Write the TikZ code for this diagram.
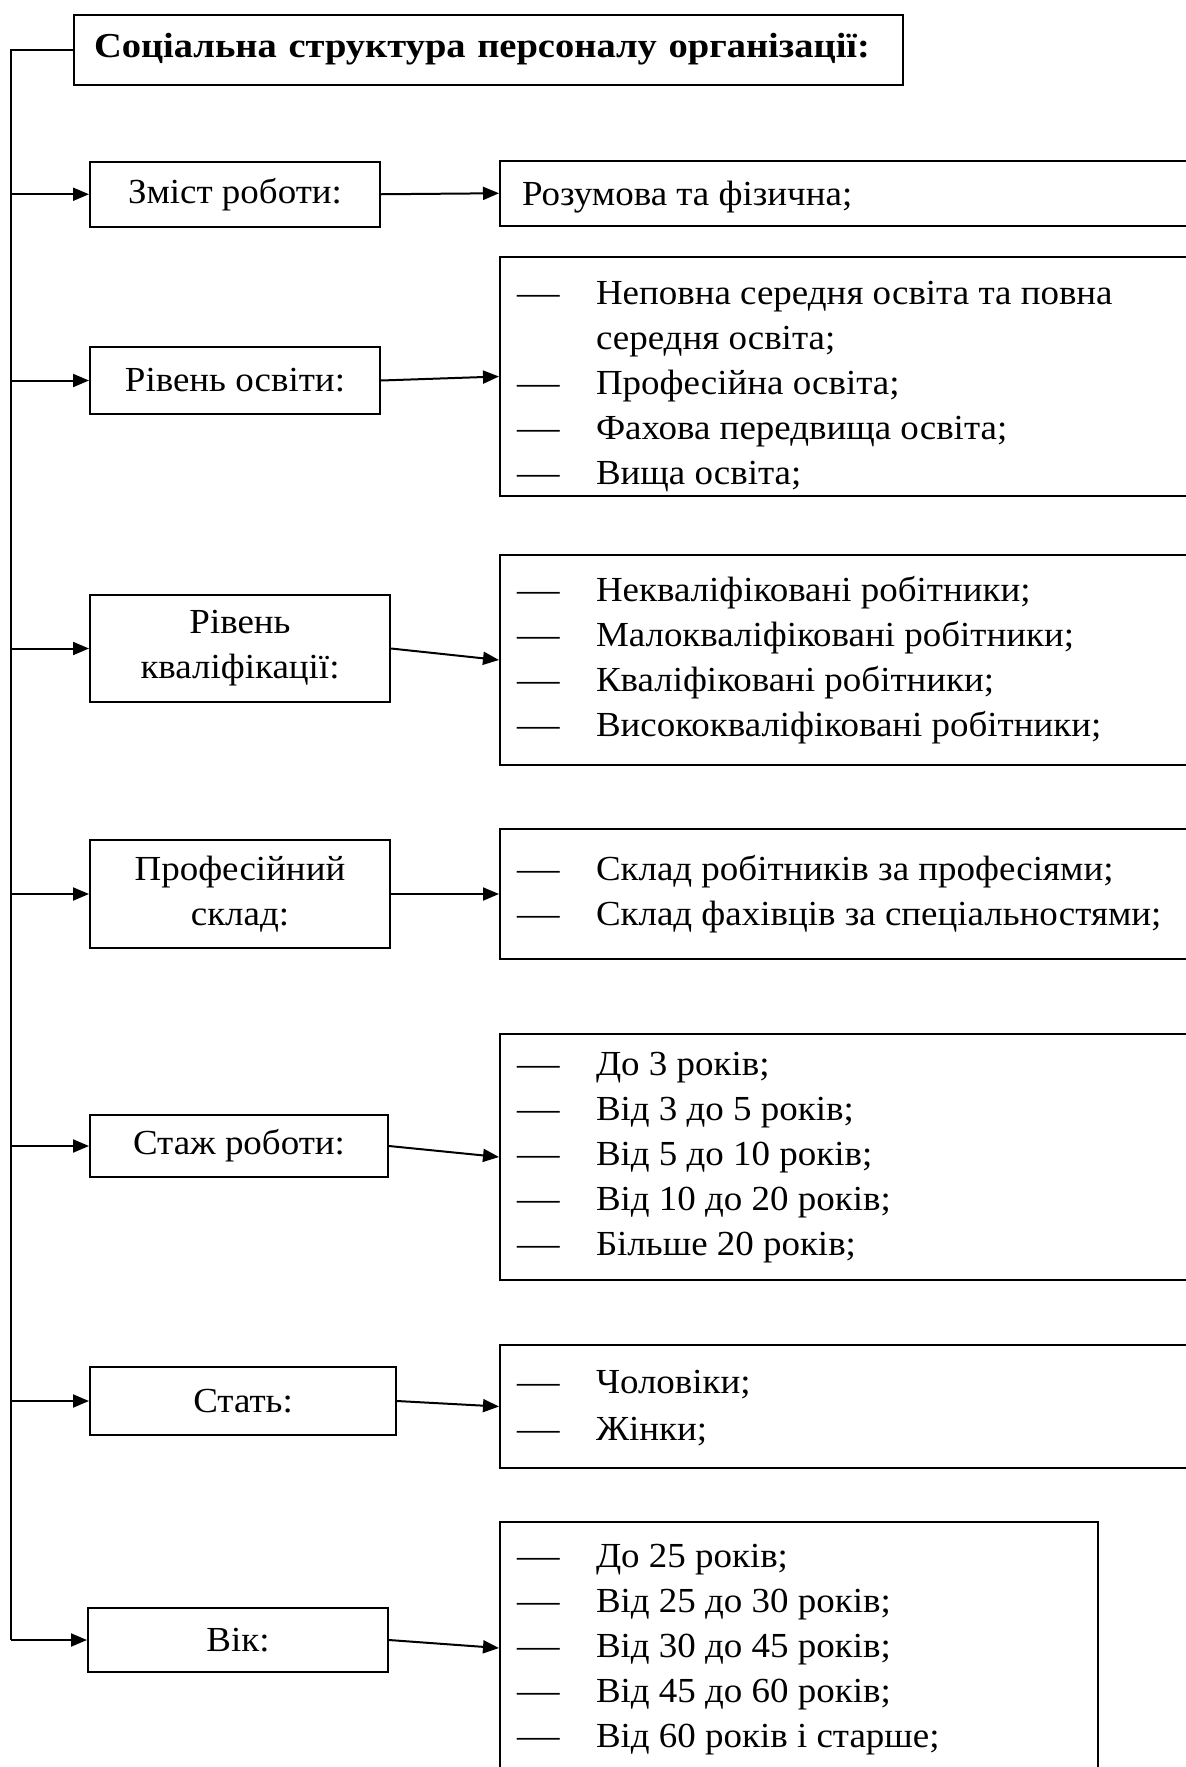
\documentclass[tikz,border=0pt]{standalone}
\usepackage{graphicx}
\usepackage{fontspec}
\setmainfont[FakeStretch=1.05]{Liberation Serif}
\newfontfamily\titlefont[FakeStretch=1.1]{Liberation Serif}
\usetikzlibrary{arrows.meta}
\newcommand{\dashitem}[1]{\makebox[39.5pt][l]{\scalebox{1.15}[1]{—}}#1}
\newcommand{\contitem}[1]{\hspace*{39.5pt}#1}
% \rtext{width}{height}{extra top space}{content}
\newcommand{\rtext}[4]{\parbox[c][#2][c]{#1}{\vspace*{#3}\raggedright #4}}
\begin{document}
\begin{tikzpicture}[x=0.5pt,y=-0.5pt,
  font=\fontsize{17.6}{22.5}\selectfont,
  line width=1pt,
  lbox/.style={draw, align=center, inner sep=0pt, anchor=north west},
  rbox/.style={draw, inner xsep=8.5pt, inner ysep=0pt, anchor=west},
  arr/.style={-{Triangle[length=8pt,width=6.5pt]}}
]
\useasboundingbox (0,0) rectangle (1186,1767);
\clip (0,0) rectangle (1186,1767);

% title
\node[draw, anchor=north west, minimum height=35pt, inner xsep=10pt, inner ysep=0pt,
      text width=394.5pt, align=left, font=\titlefont\bfseries\fontsize{17.5}{22}\selectfont]
  (title) at (73,13.5) {Соціальна структура персоналу організації:};

% left boxes
\node[lbox, minimum width=145pt, minimum height=32.25pt] (l1) at (89,161) {Зміст роботи:};
\node[lbox, minimum width=145pt, minimum height=33.5pt] (l2) at (89,346) {Рівень освіти:};
\node[lbox, minimum width=150pt, minimum height=53.5pt] (l3) at (89,594) {Рівень\\кваліфікації:};
\node[lbox, minimum width=150pt, minimum height=54pt] (l4) at (89,839) {Професійний\\склад:};
\node[lbox, minimum width=149pt, minimum height=31pt] (l5) at (89,1114) {Стаж роботи:};
\node[lbox, minimum width=153pt, minimum height=34pt] (l6) at (89,1366) {Стать:};
\node[lbox, minimum width=150pt, minimum height=32pt] (l7) at (87,1607) {Вік:};

% right boxes
\node[rbox] (r1) at (499,193.25) {\rtext{343pt}{32.25pt}{4pt}{%
  \hspace*{2.5pt}Розумова та фізична;}};
\node[rbox] (r2) at (499,376.5) {\rtext{343pt}{119.5pt}{10pt}{%
  \dashitem{Неповна середня освіта та повна}\\
  \contitem{середня освіта;}\\
  \dashitem{Професійна освіта;}\\
  \dashitem{Фахова передвища освіта;}\\
  \dashitem{Вища освіта;}}};
\node[rbox] (r3) at (499,660) {\rtext{343pt}{105.25pt}{0pt}{%
  \dashitem{Некваліфіковані робітники;}\\
  \dashitem{Малокваліфіковані робітники;}\\
  \dashitem{Кваліфіковані робітники;}\\
  \dashitem{Висококваліфіковані робітники;}}};
\node[rbox] (r4) at (499,894) {\rtext{343pt}{65pt}{0pt}{%
  \dashitem{Склад робітників за професіями;}\\
  \dashitem{Склад фахівців за спеціальностями;}}};
\node[rbox] (r5) at (499,1157) {\rtext{343pt}{123pt}{1pt}{%
  \dashitem{До 3 років;}\\
  \dashitem{Від 3 до 5 років;}\\
  \dashitem{Від 5 до 10 років;}\\
  \dashitem{Від 10 до 20 років;}\\
  \dashitem{Більше 20 років;}}};
\node[rbox] (r6) at (499,1406.5) {\rtext{343pt}{61.5pt}{1.5pt}{%
  \dashitem{Чоловіки;}\\[1pt]
  \dashitem{Жінки;}}};
\node[rbox] (r7) at (499,1648) {\rtext{282pt}{126pt}{2pt}{%
  \dashitem{До 25 років;}\\
  \dashitem{Від 25 до 30 років;}\\
  \dashitem{Від 30 до 45 років;}\\
  \dashitem{Від 45 до 60 років;}\\
  \dashitem{Від 60 років і старше;}}};

% spine
\coordinate (spine) at (11.3,0);
\draw (title.west) -| (spine |- l7.west);
\foreach \i in {1,...,7} {
  \draw[arr] (spine |- l\i.west) -- (l\i.west);
  \draw[arr] (l\i.east) -- (r\i.west);
}
\end{tikzpicture}
\end{document}
